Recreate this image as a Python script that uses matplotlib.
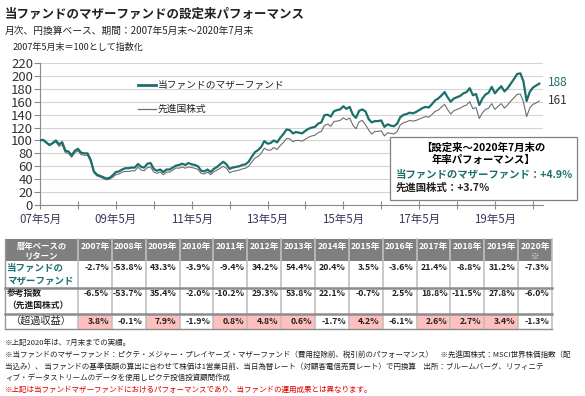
import matplotlib
matplotlib.use('Agg')
import matplotlib.pyplot as plt
import pandas as pd
from matplotlib.patches import Rectangle

plt.rcParams['font.family'] = ['Noto Sans CJK JP', 'DejaVu Sans']

# monthly index values, 2007-05 .. 2020-07 (2007年5月末=100)
months = pd.date_range('2007-05-31', '2020-07-31', freq='ME')
fund = [100, 101, 97, 93, 96, 100, 94, 97.3,
        84, 83, 77, 84, 87, 81, 80, 80, 70, 52, 47, 45.0,
        43, 41, 42, 46, 51, 52, 55, 57, 57, 58, 58, 63.5,
        59, 58, 64, 65, 56, 53, 55, 51, 55, 55, 58, 61,
        62, 64, 62, 65, 63, 62, 60, 53, 52, 55, 51, 56,
        59, 63, 67, 63, 56, 58, 59, 60, 62, 63, 67, 75,
        82, 85, 90, 99, 95, 96, 100, 97, 104, 110, 117, 116,
        111, 113, 112, 111, 115, 118, 120, 121, 126, 128, 139, 140,
        137, 145, 147, 148, 153, 149, 152, 140, 135, 146, 148, 145,
        133, 128, 130, 130, 131, 121, 125, 123, 122, 126, 136, 139.6,
        141, 143, 142, 144, 147, 150, 152, 151, 156, 162, 165, 169.5,
        175, 167, 160, 165, 167, 169, 173, 175, 181, 170, 172, 155,
        165, 171, 174, 183, 173, 179, 184, 176, 181, 188, 195, 203,
        204, 192, 161, 175, 182, 185, 188]
bench = [100, 100, 96, 92, 95, 98, 91, 93.5,
         81, 80, 74, 81, 84, 78, 77, 77, 67, 50, 45, 43.3,
         41, 39, 40, 43, 47, 48, 51, 52, 52, 53, 53, 58.6,
         54, 53, 58, 59, 51, 49, 51, 47, 51, 51, 54, 57.4,
         57, 59, 57, 59, 58, 57, 55, 49, 48, 51, 47, 51.6,
         54, 57, 60, 57, 50, 52, 53, 54, 56, 57, 60, 66.7,
         73, 75, 80, 88, 85, 85, 89, 86, 92, 97, 103, 102.6,
         98, 100, 100, 99, 102, 105, 107, 108, 112, 114, 123, 125.3,
         122, 129, 130, 131, 135, 132, 135, 124, 118, 129, 131, 124.4,
         116, 110, 114, 114, 115, 107, 112, 111, 110, 114, 124, 127.5,
         129, 131, 130, 131, 133, 135, 137, 136, 140, 145, 147, 151.5,
         156, 148, 141, 146, 148, 150, 153, 155, 160, 149, 151, 134,
         143, 148, 150, 157, 148, 153, 157, 150, 155, 161, 166, 171.3,
         172, 160, 137, 150, 156, 158, 161]

years = ['2007年', '2008年', '2009年', '2010年', '2011年', '2012年', '2013年',
         '2014年', '2015年', '2016年', '2017年', '2018年', '2019年', '2020年\n※']
fund_ret = ['-2.7%', '-53.8%', '43.3%', '-3.9%', '-9.4%', '34.2%', '54.4%',
            '20.4%', '3.5%', '-3.6%', '21.4%', '-8.8%', '31.2%', '-7.3%']
bench_ret = ['-6.5%', '-53.7%', '35.4%', '-2.0%', '-10.2%', '29.3%', '53.8%',
             '22.1%', '-0.7%', '2.5%', '18.8%', '-11.5%', '27.8%', '-6.0%']
excess = [3.8, -0.1, 7.9, -1.9, 0.8, 4.8, 0.6, -1.7, 4.2, -6.1, 2.6, 2.7, 3.4, -1.3]

TEAL = '#1b6f6c'
W, H = 585, 396

fig = plt.figure(figsize=(W / 100, H / 100), dpi=100)

# main line chart
ax = fig.add_axes([40 / W, (H - 205) / H, (543 - 40) / W, (205 - 63) / H])
ax.plot(months, bench, color='#6e6e6e', lw=0.8, zorder=3)
ax.plot(months, fund, color=TEAL, lw=1.6, zorder=4)
ax.set_ylim(0, 220)
ax.set_yticks(range(0, 221, 20))
ax.set_xlim(pd.Timestamp('2007-05-31'), pd.Timestamp('2020-09-05'))
ticks = [pd.Timestamp(f'{y}-05-31') for y in range(2007, 2021)]
ax.set_xticks(ticks)
ax.set_xticklabels([f'{y % 100:02d}年5月' if (y - 2007) % 2 == 0 else '' for y in range(2007, 2021)])
ax.grid(axis='y', color='#d4d4d4', lw=0.8)
ax.set_axisbelow(True)
for s in ['top', 'right']:
    ax.spines[s].set_visible(False)
ax.spines['left'].set_color('#8a8a8a')
ax.spines['bottom'].set_color('#8a8a8a')
ax.tick_params(axis='y', length=4, color='#8a8a8a', labelsize=9.5, labelcolor='#333333', pad=1)
ax.tick_params(axis='x', direction='inout', length=6, color='#8a8a8a', labelsize=8.3,
               labelcolor='#3a3a5a', pad=3)

# overlay for text, legend, box and table (pixel coordinates)
ov = fig.add_axes([0, 0, 1, 1])
ov.set_xlim(0, W)
ov.set_ylim(H, 0)
ov.axis('off')

ov.text(5, 14, '当ファンドのマザーファンドの設定来パフォーマンス', fontsize=9, weight='bold',
        va='center', color='#222222')
ov.text(5, 31, '月次、円換算ベース、期間：2007年5月末～2020年7月末', fontsize=7,
        va='center', color='#222222')
ov.text(13, 47, '2007年5月末＝100として指数化', fontsize=6.5, va='center', color='#222222')

# legend
ov.plot([138, 156], [85, 85], color=TEAL, lw=2)
ov.text(158, 85, '当ファンドのマザーファンド', fontsize=7, va='center', color='#222222')
ov.plot([138, 156], [109, 109], color='#6e6e6e', lw=0.9)
ov.text(158, 109, '先進国株式', fontsize=7, va='center', color='#222222')

# end labels
ov.text(548, 83, f'{fund[-1]:.0f}', fontsize=8.5, color=TEAL, va='center')
ov.text(548, 101, f'{bench[-1]:.0f}', fontsize=8.5, color='#333333', va='center')

# annualised performance box
ov.add_patch(Rectangle((390, 137), 187, 63, facecolor='white', edgecolor='#808080', lw=0.9, zorder=5))
ov.text(483, 148, '【設定来～2020年7月末の', fontsize=7.5, weight='bold', ha='center', va='center', zorder=6)
ov.text(483, 160, '年率パフォーマンス】', fontsize=7.5, weight='bold', ha='center', va='center', zorder=6)
ov.text(396, 175, '当ファンドのマザーファンド：+4.9％', fontsize=7.5, weight='bold', color=TEAL,
        va='center', zorder=6)
ov.text(396, 188, '先進国株式：+3.7％', fontsize=7.5, weight='bold', color='#222222', va='center', zorder=6)

# table
x0, x1 = 5, 78
cw = (552 - 78) / len(years)
r = [239, 261, 288, 314, 329]
ov.add_patch(Rectangle((x0, r[0]), 552 - x0, r[1] - r[0], facecolor='#7f7f7f', edgecolor='none'))
for i, v in enumerate(excess):
    if v > 0:
        ov.add_patch(Rectangle((x1 + i * cw, r[3]), cw, r[4] - r[3], facecolor='#ffbfbf', edgecolor='none'))
for i in range(len(years) + 1):
    xx = x1 + i * cw
    ov.plot([xx, xx], [r[0], r[4]], color='#c0c0c0', lw=1.2)
ov.plot([x0, x0], [r[0], r[4]], color='#9a9a9a', lw=1)
for yy in [r[2], r[3]]:
    ov.plot([x0, 552], [yy, yy], color='#8c8c8c', lw=1.8)
ov.plot([x0, 552], [r[4], r[4]], color='#8c8c8c', lw=1)

ov.text((x0 + x1) / 2, 246, '暦年ベースの', fontsize=6, weight='bold', color='white', ha='center', va='center')
ov.text((x0 + x1) / 2, 256, 'リターン', fontsize=6, weight='bold', color='white', ha='center', va='center')
for i, yl in enumerate(years):
    cx = x1 + (i + 0.5) * cw
    parts = yl.split('\n')
    ov.text(cx, 246, parts[0], fontsize=6.3, weight='bold', color='white', ha='center', va='center')
    if len(parts) > 1:
        ov.text(cx, 256, parts[1], fontsize=6, weight='bold', color='white', ha='center', va='center')

ov.text(7, 268, '当ファンドの', fontsize=6.8, weight='bold', color=TEAL, va='center')
ov.text(7, 281, 'マザーファンド', fontsize=6.8, weight='bold', color=TEAL, va='center')
ov.text(7, 293, '参考指数', fontsize=6.3, weight='bold', color='#222222', va='center')
ov.text(7, 305, '（先進国株式）', fontsize=6.3, weight='bold', color='#222222', va='center')
ov.text((x0 + x1) / 2, 321, '（超過収益）', fontsize=7.3, color='#222222', ha='center', va='center')
for i in range(len(years)):
    rx = x1 + (i + 1) * cw - 3
    ov.text(rx, 268, fund_ret[i], fontsize=6.3, weight='bold', ha='right', va='center', color='#222222')
    ov.text(rx, 293, bench_ret[i], fontsize=6.3, weight='bold', ha='right', va='center', color='#222222')
    ov.text(rx, 321, f'{excess[i]:.1f}%', fontsize=6.3, weight='bold', ha='right', va='center', color='#222222')

# footnotes
notes = ['※上記2020年は、7月末までの実績。',
         '※当ファンドのマザーファンド：ピクテ・メジャー・プレイヤーズ・マザーファンド（費用控除前、税引前のパフォーマンス）　※先進国株式：MSCI世界株価指数（配',
         '当込み）、 当ファンドの基準価額の算出に合わせて株価は1営業日前、当日為替レート（対顧客電信売買レート）で円換算　出所：ブルームバーグ、リフィニテ',
         'ィブ・データストリームのデータを使用しピクテ投信投資顧問作成']
for k, t in enumerate(notes):
    ov.text(5, 343 + k * 11.7, t, fontsize=5.45, va='center', color='#222222')
ov.text(5, 390, '※上記は当ファンドマザーファンドにおけるパフォーマンスであり、当ファンドの運用成果とは異なります。',
        fontsize=5.45, va='center', color='#e00000')

fig.savefig('out.png', dpi=100)
